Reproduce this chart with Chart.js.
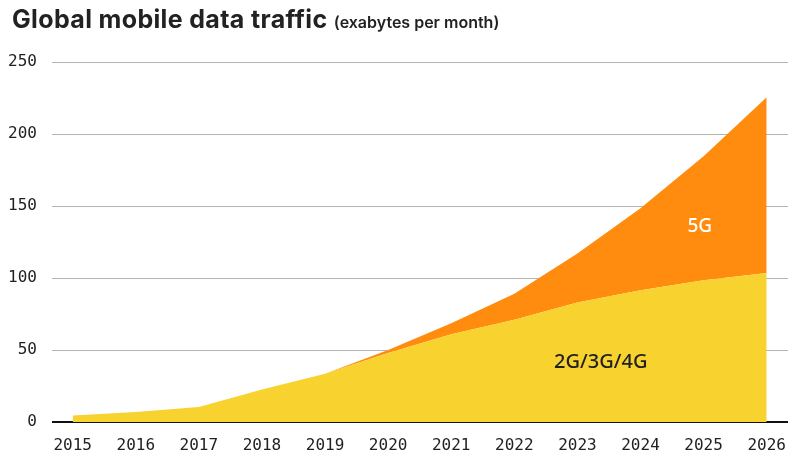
<!DOCTYPE html>
<html>
<head>
<meta charset="utf-8">
<title>Global mobile data traffic</title>
<script src="https://cdn.jsdelivr.net/npm/chart.js@4"></script>
<style>
  body { margin: 0; background: #fff; }
  #wrap { position: relative; width: 800px; height: 460px; }
  #titulo {
    position: absolute; left: 12px; top: 4px; margin: 0;
    font-family: "Inter", sans-serif; font-weight: 700; font-size: 25px;
    color: #222; white-space: nowrap; letter-spacing: 0.35px;
  }
  #titulo span { font-size: 16px; font-weight: 600; letter-spacing: 0; }
  canvas { position: absolute; left: 0; top: 0; }
</style>
</head>
<body>
<div id="wrap">
  <canvas id="canvas_grafico" width="800" height="460"></canvas>
  <h1 id="titulo">Global mobile data traffic <span>(exabytes per month)</span></h1>
</div>
<script>
const years = [2015, 2016, 2017, 2018, 2019, 2020, 2021, 2022, 2023, 2024, 2025, 2026];
// exabytes per month
const legacyTraffic = [4.5, 7, 10.5, 22.5, 33.5, 48, 61, 71, 83, 91.5, 98.5, 103.5];
const fiveGTraffic = [0, 0, 0, 0, 0, 2, 7.5, 18, 34, 57, 86, 122];
const yTicks = [0, 50, 100, 150, 200, 250];

const legacyLabel = "2G/3G/4G";
const fiveGLabel = "5G";

const canvas_grafico = document.getElementById("canvas_grafico");

function toPoints(values) {
  return values.map((v, i) => ({ x: years[i], y: v }));
}

/* etiquetas dentro de las areas */
const areaLabels = {
  id: "areaLabels",
  afterDatasetsDraw(chart) {
    const ctx = chart.ctx;
    const sx = chart.scales.x;
    const sy = chart.scales.y;
    ctx.save();
    ctx.textAlign = "center";
    ctx.textBaseline = "middle";
    ctx.font = "500 19px 'Noto Sans', sans-serif";
    ctx.fillStyle = "#ffffff";
    ctx.fillText(fiveGLabel, sx.getPixelForValue(2024.94), sy.getPixelForValue(136));
    ctx.font = "500 20px 'Noto Sans', sans-serif";
    ctx.fillStyle = "#222222";
    ctx.fillText(legacyLabel, sx.getPixelForValue(2023.37), sy.getPixelForValue(41.5));
    ctx.restore();
  }
};

const config = {
  type: "line",
  data: {
    datasets: [
      {
        label: legacyLabel,
        data: toPoints(legacyTraffic),
        backgroundColor: "#f8d22f",
        borderWidth: 0,
        pointRadius: 0,
        fill: "origin",
      },
      {
        label: fiveGLabel,
        data: toPoints(fiveGTraffic),
        backgroundColor: "#ff8c0e",
        borderWidth: 0,
        pointRadius: 0,
        fill: "-1",
      }
    ],
  },
  options: {
    responsive: false,
    animation: false,
    layout: { padding: { top: 62, right: 12, bottom: 0, left: 0 } },
    plugins: {
      legend: { display: false },
      tooltip: { enabled: false },
    },
    scales: {
      x: {
        type: "linear",
        min: 2014.672,
        max: 2026.338,
        afterBuildTicks: (axis) => { axis.ticks = years.map((y) => ({ value: y })); },
        afterFit: (axis) => { axis.height = 38; },
        grid: { display: false },
        border: { display: false },
        ticks: {
          padding: 6,
          color: "#222",
          font: { family: "'DejaVu Sans Mono', monospace", size: 16 },
          callback: (v) => String(v),
        },
      },
      y: {
        stacked: true,
        min: 0,
        max: 250,
        afterBuildTicks: (axis) => { axis.ticks = yTicks.map((v) => ({ value: v })); },
        afterFit: (axis) => { axis.width = 52; },
        border: { display: false },
        grid: {
          drawTicks: false,
          color: (c) => (c.tick && c.tick.value === 0 ? "#111" : "#b4b4b4"),
          lineWidth: (c) => (c.tick && c.tick.value === 0 ? 2 : 1),
        },
        ticks: {
          padding: 15,
          color: "#222",
          font: { family: "'DejaVu Sans Mono', monospace", size: 16 },
        },
      },
    },
  },
  plugins: [areaLabels],
};

new Chart(canvas_grafico, config);
</script>
</body>
</html>
